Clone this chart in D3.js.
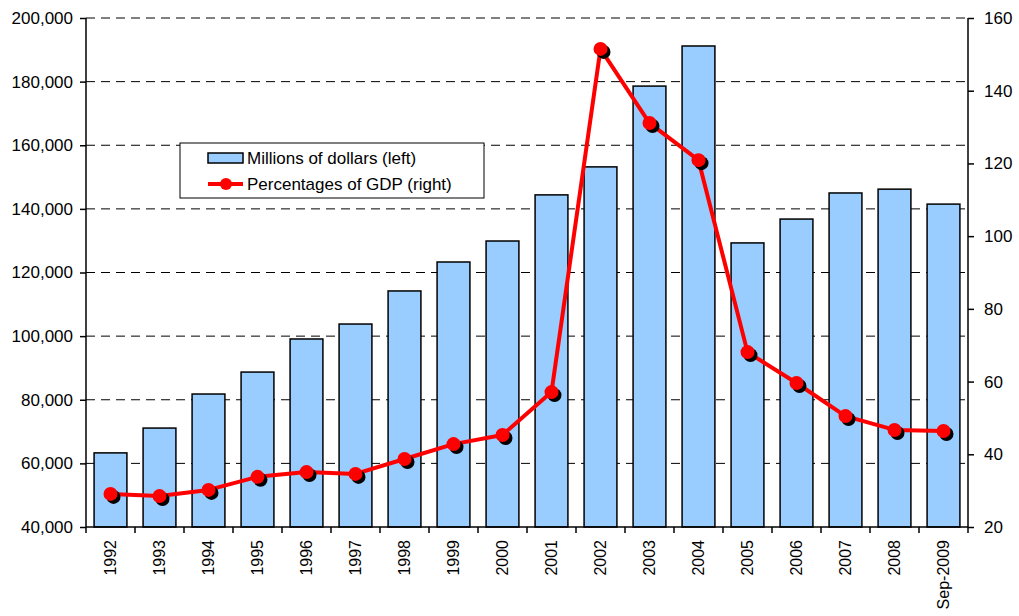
<!DOCTYPE html>
<html>
<head>
<meta charset="utf-8">
<script src="https://cdn.jsdelivr.net/npm/d3@7"></script>
<style>
  body { margin: 0; background: #fff; }
  svg { display: block; font-family: "Liberation Sans", Arial, sans-serif; }
</style>
</head>
<body>
<svg id="chart" width="1019" height="616"></svg>
<script>
// data
const years = ["1992", "1993", "1994", "1995", "1996", "1997", "1998", "1999", "2000",
	"2001", "2002", "2003", "2004", "2005", "2006", "2007", "2008", "Sep-2009"];
const millions = [63300, 71100, 81800, 88700, 99100, 103800, 114200, 123300, 129900,
	144400, 153200, 178600, 191200, 129300, 136800, 145000, 146200, 141500];
const pctGdp = [29.1, 28.5, 30.2, 33.8, 35.1, 34.6, 38.7, 42.8, 45.3,
	57.1, 151.5, 131.1, 120.9, 68.1, 59.6, 50.5, 46.7, 46.4];
const leftTicks = [40000, 60000, 80000, 100000, 120000, 140000, 160000, 180000, 200000];
const rightTicks = [20, 40, 60, 80, 100, 120, 140, 160];

const svg = d3.select("#chart");
const m = { left: 86, right: 968, top: 18, bottom: 527 };

const x = d3.scaleBand().domain(years).range([m.left, m.right]).paddingInner(0.33).paddingOuter(0.165);
const yL = d3.scaleLinear().domain([40000, 200000]).range([m.bottom, m.top]);
const yR = d3.scaleLinear().domain([20, 160]).range([m.bottom, m.top]);

// gridlines
svg.append("g").selectAll("line")
	.data(leftTicks.slice(1))
	.enter().append("line")
	.attr("x1", m.left).attr("x2", m.right)
	.attr("y1", d => yL(d)).attr("y2", d => yL(d))
	.attr("stroke", "#000").attr("stroke-width", 1)
	.attr("stroke-dasharray", "9,6");

// bars
svg.append("g").selectAll("rect")
	.data(millions)
	.enter().append("rect")
	.attr("x", (d, i) => x(years[i]))
	.attr("y", d => yL(d))
	.attr("width", x.bandwidth())
	.attr("height", d => yL(40000) - yL(d))
	.attr("fill", "#99ccff")
	.attr("stroke", "#000")
	.attr("stroke-width", 1.5);

// axes
const fmt = d3.format(",");
const axL = svg.append("g").attr("transform", `translate(${m.left},0)`)
	.call(d3.axisLeft(yL).tickValues(leftTicks).tickFormat(fmt).tickSize(6).tickPadding(7));
const axR = svg.append("g").attr("transform", `translate(${m.right},0)`)
	.call(d3.axisRight(yR).tickValues(rightTicks).tickSize(6).tickPadding(10));
const axB = svg.append("g").attr("transform", `translate(0,${m.bottom})`)
	.call(d3.axisBottom(x).tickSize(0).tickPadding(0));

[axL, axR, axB].forEach(ax => {
	ax.select(".domain").attr("stroke", "#000").attr("stroke-width", 1.5);
	ax.selectAll(".tick line").attr("stroke", "#000").attr("stroke-width", 1.5);
	ax.selectAll("text").attr("font-size", 17).attr("fill", "#000")
		.attr("font-family", "Liberation Sans, Arial, sans-serif");
});
axB.selectAll("text").attr("font-size", 16);
axL.select(".domain").attr("d", `M0,${m.bottom}V${m.top}`);
axR.select(".domain").attr("d", `M0,${m.bottom}V${m.top}`);
axB.select(".domain").attr("d", `M${m.left},0H${m.right}`);

// category separators on the x axis
const bounds = years.map((d, i) => m.left + i * x.step()).concat([m.right]);
axB.append("g").selectAll("line")
	.data(bounds)
	.enter().append("line")
	.attr("x1", d => d).attr("x2", d => d)
	.attr("y1", 0).attr("y2", 6)
	.attr("stroke", "#000").attr("stroke-width", 1.5);

axB.selectAll(".tick text")
	.attr("transform", "rotate(-90)")
	.attr("text-anchor", "end")
	.attr("x", -13).attr("y", 0).attr("dy", "0.35em");

// line series
const line = d3.line()
	.x((d, i) => x(years[i]) + x.bandwidth() / 2)
	.y(d => yR(d));

svg.append("path")
	.datum(pctGdp)
	.attr("d", line)
	.attr("fill", "none")
	.attr("stroke", "#ff0000")
	.attr("stroke-width", 4)
	.attr("stroke-linejoin", "round");

const pts = svg.append("g");
pts.selectAll("circle.shadow")
	.data(pctGdp)
	.enter().append("circle")
	.attr("class", "shadow")
	.attr("cx", (d, i) => x(years[i]) + x.bandwidth() / 2 + 3)
	.attr("cy", d => yR(d) + 3)
	.attr("r", 7)
	.attr("fill", "#000");
pts.selectAll("circle.dot")
	.data(pctGdp)
	.enter().append("circle")
	.attr("class", "dot")
	.attr("cx", (d, i) => x(years[i]) + x.bandwidth() / 2)
	.attr("cy", d => yR(d))
	.attr("r", 7)
	.attr("fill", "#ff0000");

// legend
const lg = svg.append("g").attr("transform", "translate(180,143)");
lg.append("rect").attr("width", 304).attr("height", 55)
	.attr("fill", "#fff").attr("stroke", "#000").attr("stroke-width", 1);
lg.append("rect").attr("x", 28).attr("y", 10).attr("width", 35).attr("height", 10)
	.attr("fill", "#99ccff").attr("stroke", "#000").attr("stroke-width", 1.5);
lg.append("text").attr("x", 67).attr("y", 15).attr("dy", "0.35em")
	.attr("font-size", 17).text("Millions of dollars (left)");
lg.append("line").attr("x1", 28).attr("x2", 63).attr("y1", 41).attr("y2", 41)
	.attr("stroke", "#ff0000").attr("stroke-width", 4);
lg.append("circle").attr("cx", 46).attr("cy", 41).attr("r", 6).attr("fill", "#ff0000");
lg.append("text").attr("x", 67).attr("y", 41).attr("dy", "0.35em")
	.attr("font-size", 17).text("Percentages of GDP (right)");
</script>
</body>
</html>
